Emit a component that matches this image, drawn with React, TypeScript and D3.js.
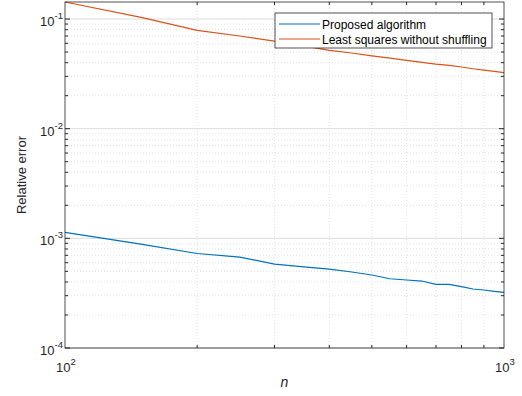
import React from "react";
import * as d3 from "d3";

const nValues = [100, 150, 200, 250, 300, 350, 400, 450, 500, 550, 600, 650, 700, 750, 800, 850, 900, 950, 1000];
const proposed = [1.134e-3, 8.8e-4, 7.27e-4, 6.75e-4, 5.83e-4, 5.5e-4, 5.25e-4, 4.93e-4, 4.63e-4, 4.28e-4, 4.17e-4, 4.08e-4, 3.81e-4, 3.81e-4, 3.63e-4, 3.45e-4, 3.38e-4, 3.29e-4, 3.22e-4];
const leastSquares = [0.143, 0.103, 0.0788, 0.07, 0.063, 0.057, 0.0518, 0.049, 0.0462, 0.044, 0.042, 0.0402, 0.0388, 0.0378, 0.0365, 0.0352, 0.0342, 0.0333, 0.0324];
const xMajor = [100, 1000];
const yMajor = [1e-4, 1e-3, 1e-2, 1e-1];
const seriesNames = ["Proposed algorithm", "Least squares without shuffling"];
const seriesColors = ["#0072BD", "#D95319"];

const W = 522;
const H = 396;
const margin = { left: 65, right: 18, top: 2, bottom: 48 };
const font = "'Liberation Sans', Arial, sans-serif";

const App: React.FC = () => {
  const x = d3.scaleLog().domain([100, 1000]).range([margin.left, W - margin.right]);
  const y = d3.scaleLog().domain([1e-4, 0.143]).range([H - margin.bottom, margin.top]);
  const [x0, x1] = x.range();
  const [y0, y1] = y.range();

  const xMinor = d3.range(2, 10).map((k) => k * 100);
  const yMinor: number[] = [];
  [1e-4, 1e-3, 1e-2, 1e-1].forEach((d) => {
    d3.range(2, 10).forEach((k) => {
      const v = k * d;
      if (v < 0.143) yMinor.push(v);
    });
  });

  const line = d3
    .line<number>()
    .x((_, i) => x(nValues[i]))
    .y((d) => y(d));

  const axisColor = "#262626";
  const series = [proposed, leastSquares];

  return (
    <svg width={W} height={H} style={{ position: "fixed", left: 0, top: 0 }} fontFamily={font}>
      <rect x={0} y={0} width={W} height={H} fill="#fff" />
      <rect x={x0} y={y1} width={x1 - x0} height={y0 - y1} fill="#fff" />
      {/* minor grid */}
      {xMinor.map((v) => (
        <line key={"xm" + v} x1={x(v)} x2={x(v)} y1={y0} y2={y1} stroke="#e3e3e3" strokeDasharray="1,2" />
      ))}
      {yMinor.map((v) => (
        <line key={"ym" + v} x1={x0} x2={x1} y1={y(v)} y2={y(v)} stroke="#e3e3e3" strokeDasharray="1,2" />
      ))}
      {/* major grid */}
      {yMajor.map((v) => (
        <line key={"yM" + v} x1={x0} x2={x1} y1={y(v)} y2={y(v)} stroke="#dcdcdc" />
      ))}
      {/* data */}
      {series.map((s, i) => (
        <path key={i} d={line(s) || ""} fill="none" stroke={seriesColors[i]} strokeWidth={1.2} />
      ))}
      {/* ticks */}
      {xMinor.map((v) => (
        <g key={"xt" + v} stroke={axisColor}>
          <line x1={x(v)} x2={x(v)} y1={y0} y2={y0 - 3} />
          <line x1={x(v)} x2={x(v)} y1={y1} y2={y1 + 3} />
        </g>
      ))}
      {yMinor.map((v) => (
        <g key={"yt" + v} stroke={axisColor}>
          <line x1={x0} x2={x0 + 3} y1={y(v)} y2={y(v)} />
          <line x1={x1} x2={x1 - 3} y1={y(v)} y2={y(v)} />
        </g>
      ))}
      {yMajor.map((v) => (
        <g key={"yT" + v} stroke={axisColor}>
          <line x1={x0} x2={x0 + 5} y1={y(v)} y2={y(v)} />
          <line x1={x1} x2={x1 - 5} y1={y(v)} y2={y(v)} />
        </g>
      ))}
      {/* box */}
      <rect x={x0} y={y1} width={x1 - x0} height={y0 - y1} fill="none" stroke={axisColor} strokeWidth={0.8} />
      {/* tick labels */}
      {yMajor.map((v) => (
        <text key={"yl" + v} x={x0 - 2} y={y(v) + 7} textAnchor="end" fontSize={13} fill={axisColor}>
          <tspan>10</tspan>
          <tspan dy={-7} fontSize={9.5}>{Math.round(Math.log10(v))}</tspan>
        </text>
      ))}
      {xMajor.map((v) => (
        <text key={"xl" + v} x={x(v) + 1} y={y0 + 24} textAnchor="middle" fontSize={13} fill={axisColor}>
          <tspan>10</tspan>
          <tspan dy={-7} fontSize={9.5}>{Math.round(Math.log10(v))}</tspan>
        </text>
      ))}
      {/* axis labels */}
      <text x={(x0 + x1) / 2} y={387} textAnchor="middle" fontSize={14} fontStyle="italic" fill={axisColor}>
        n
      </text>
      <text transform={`translate(26,${(y0 + y1) / 2}) rotate(-90)`} textAnchor="middle" fontSize={13} fill={axisColor}>
        Relative error
      </text>
      {/* legend */}
      <g transform="translate(275,13)">
        <rect x={0} y={0} width={217} height={35} fill="#fff" stroke={axisColor} strokeWidth={0.8} />
        {seriesNames.map((name, i) => (
          <g key={name} transform={`translate(0,${11 + i * 15})`}>
            <line x1={4} x2={45} y1={0} y2={0} stroke={seriesColors[i]} strokeWidth={1.2} />
            <text x={47} y={4.5} fontSize={12} fill="#000">
              {name}
            </text>
          </g>
        ))}
      </g>
    </svg>
  );
};

export default App;
